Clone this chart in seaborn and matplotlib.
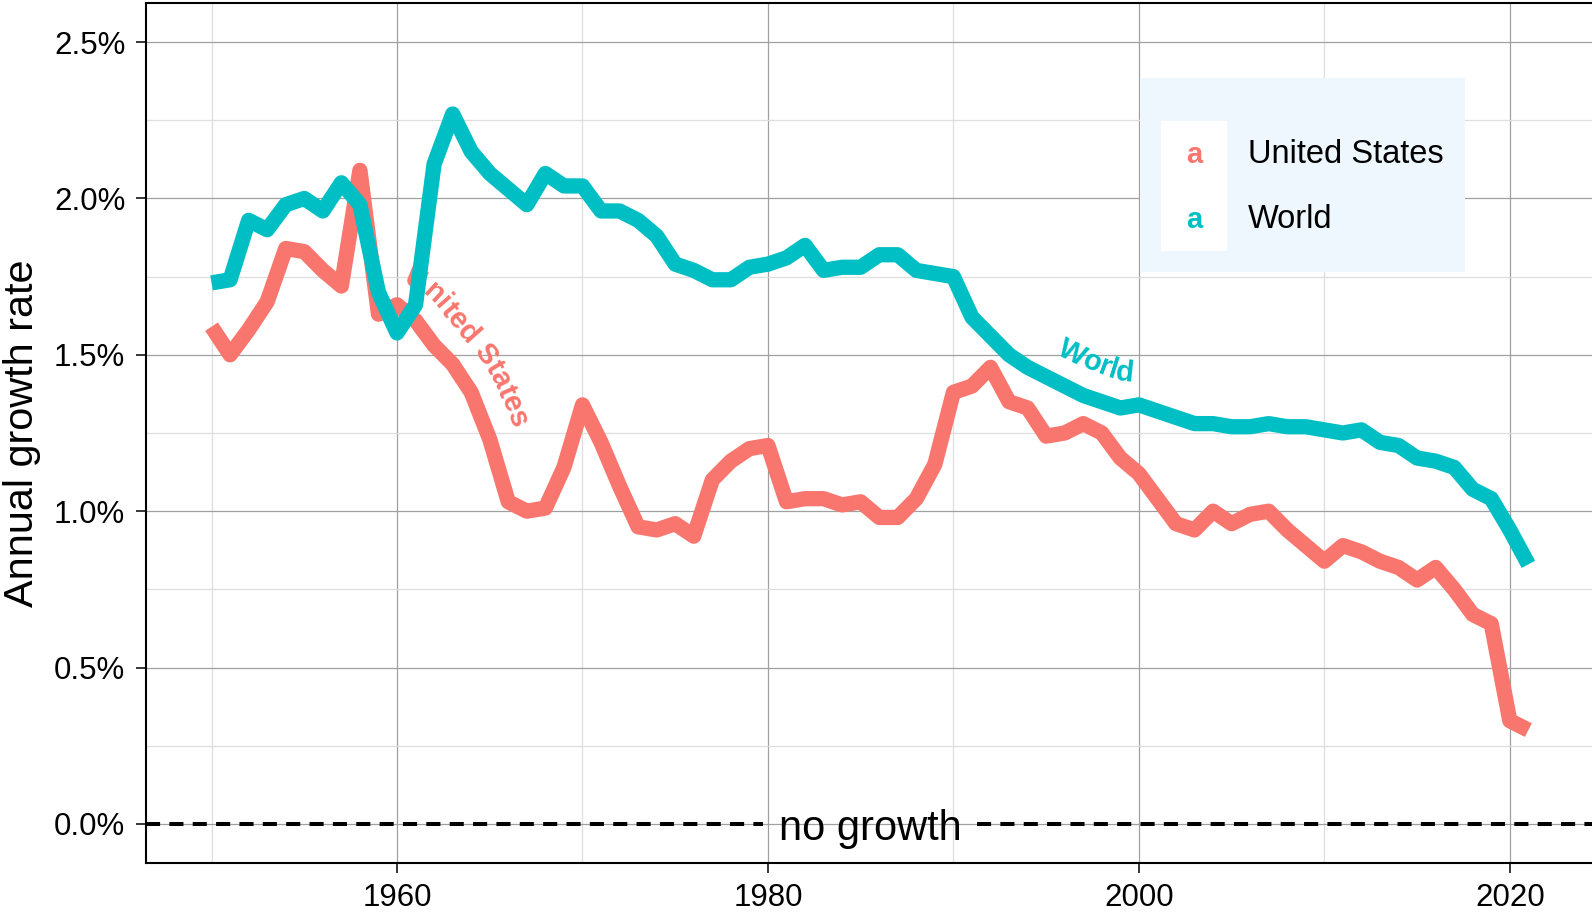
import numpy as np
import pandas as pd
import matplotlib
matplotlib.use("Agg")
import matplotlib.pyplot as plt
import seaborn as sns
from matplotlib.legend_handler import HandlerBase
from matplotlib.patches import Rectangle
from matplotlib.text import Text
from matplotlib.lines import Line2D
from matplotlib.font_manager import FontProperties, findfont
from matplotlib.ft2font import FT2Font
from matplotlib.ticker import FixedLocator, FuncFormatter
from matplotlib.transforms import offset_copy

# ---------------- data ----------------
years = list(range(1950, 2022))
us_growth = [1.59, 1.50, 1.58, 1.67, 1.84, 1.83, 1.77, 1.72, 2.09, 1.63,
             1.66, 1.61, 1.53, 1.47, 1.38, 1.23, 1.03, 1.00, 1.01, 1.14,
             1.34, 1.22, 1.08, 0.95, 0.94, 0.96, 0.92, 1.10, 1.16, 1.20,
             1.21, 1.03, 1.04, 1.04, 1.02, 1.03, 0.98, 0.98, 1.04, 1.15,
             1.38, 1.40, 1.46, 1.35, 1.33, 1.24, 1.25, 1.28, 1.25, 1.17,
             1.12, 1.04, 0.96, 0.94, 1.00, 0.96, 0.99, 1.00, 0.94, 0.89,
             0.84, 0.89, 0.87, 0.84, 0.82, 0.78, 0.82, 0.75, 0.67, 0.64,
             0.33, 0.30]
world_growth = [1.73, 1.74, 1.93, 1.90, 1.98, 2.00, 1.96, 2.05, 1.98, 1.70,
                1.57, 1.66, 2.11, 2.27, 2.15, 2.08, 2.03, 1.98, 2.08, 2.04,
                2.04, 1.96, 1.96, 1.93, 1.88, 1.79, 1.77, 1.74, 1.74, 1.78,
                1.79, 1.81, 1.85, 1.77, 1.78, 1.78, 1.82, 1.82, 1.77, 1.76,
                1.75, 1.62, 1.56, 1.50, 1.46, 1.43, 1.40, 1.37, 1.35, 1.33,
                1.34, 1.32, 1.30, 1.28, 1.28, 1.27, 1.27, 1.28, 1.27, 1.27,
                1.26, 1.25, 1.26, 1.22, 1.21, 1.17, 1.16, 1.14, 1.07, 1.04,
                0.94, 0.83]
countries = ["United States", "World"]
colors = ["#F8766D", "#00BFC4"]
x_breaks = [1960, 1980, 2000, 2020]
x_minor = [1950, 1970, 1990, 2010]
y_breaks = [0.0, 0.5, 1.0, 1.5, 2.0, 2.5]
y_minor = [0.25, 0.75, 1.25, 1.75, 2.25]
y_title = "Annual growth rate"
ref_label = "no growth"

# ---------------- style ----------------
sns.set_theme(style="white")
plt.rcParams["font.family"] = ["Liberation Sans", "DejaVu Sans"]

df = pd.DataFrame({
    "year": years * 2,
    "growth": us_growth + world_growth,
    "country": [countries[0]] * len(years) + [countries[1]] * len(years),
})
palette = dict(zip(countries, colors))

W, H = 1592, 916
fig = plt.figure(figsize=(W / 100, H / 100), dpi=100)
ax = fig.add_axes([145.7 / W, (H - 863) / H, 1448.5 / W, 860 / H])

sns.lineplot(data=df, x="year", y="growth", hue="country", hue_order=countries,
             palette=palette, linewidth=11, estimator=None, legend=False, ax=ax)
for i, ln in enumerate(ax.lines):
    ln.set_solid_joinstyle("round")
    ln.set_solid_capstyle("butt")
    ln.set_zorder(2 + i)

xlim = (1946.45, 2024.55)
ylim = (-0.125, 2.625)
ax.set_xlim(*xlim)
ax.set_ylim(*ylim)

ax.xaxis.set_major_locator(FixedLocator(x_breaks))
ax.xaxis.set_minor_locator(FixedLocator(x_minor))
ax.yaxis.set_major_locator(FixedLocator(y_breaks))
ax.yaxis.set_minor_locator(FixedLocator(y_minor))
ax.yaxis.set_major_formatter(FuncFormatter(lambda v, p: f"{v:.1f}%"))
ax.xaxis.set_major_formatter(FuncFormatter(lambda v, p: f"{int(v)}"))

ax.set_axisbelow(True)
ax.grid(which="major", color="#a0a0a0", linewidth=0.9)
ax.grid(which="minor", color="#dedede", linewidth=0.9)
ax.tick_params(which="major", length=7.2, width=1.1, color="black", pad=7.5,
               labelsize=22.5, labelcolor="black", bottom=True, left=True)
ax.tick_params(which="minor", length=0)
for sp in ax.spines.values():
    sp.set_visible(True)
    sp.set_color("black")
    sp.set_linewidth(1.5)

ax.set_xlabel("")
ax.set_ylabel(y_title, fontsize=29.8, color="black")
ax.yaxis.set_label_coords(-0.0725, 0.5)


# ---------------- labels along the lines ----------------
def text_on_path(xs, ys, label, x_mid, offset_px, color, size_pt, z, win=18):
    P = ax.transData.transform(np.column_stack([xs, ys]))
    d = np.hypot(*np.diff(P, axis=0).T)
    s = np.concatenate([[0], np.cumsum(d)])
    ss = np.arange(0, s[-1], 1.0)
    X = np.interp(ss, s, P[:, 0])
    Y = np.interp(ss, s, P[:, 1])
    k = int(win)
    ker = np.ones(2 * k + 1) / (2 * k + 1)
    Xs = np.convolve(np.pad(X, k, mode="edge"), ker, "valid")
    Ys = np.convolve(np.pad(Y, k, mode="edge"), ker, "valid")
    dx, dy = np.gradient(Xs), np.gradient(Ys)
    L = np.hypot(dx, dy)
    nx, ny = -dy / L, dx / L
    OX, OY = Xs + offset_px * nx, Ys + offset_px * ny
    so = np.concatenate([[0], np.cumsum(np.hypot(np.diff(OX), np.diff(OY)))])
    s_mid = np.interp(x_mid, xs, s)
    so_mid = np.interp(s_mid, ss, so)
    fp = FontProperties(family="Liberation Sans", weight="bold", size=size_pt)
    font = FT2Font(findfont(fp))
    font.set_size(size_pt, fig.dpi)
    adv = np.array([font.load_char(ord(c)).linearHoriAdvance / 65536 for c in label])
    starts = so_mid - adv.sum() / 2 + np.concatenate([[0], np.cumsum(adv)[:-1]])
    centers = starts + adv / 2
    inv = ax.transData.inverted()
    for c, sc, a in zip(label, centers, adv):
        if c == " ":
            continue
        px = np.interp(sc, so, OX)
        py = np.interp(sc, so, OY)
        ax_ = np.interp(sc + a / 2, so, OX) - np.interp(sc - a / 2, so, OX)
        ay_ = np.interp(sc + a / 2, so, OY) - np.interp(sc - a / 2, so, OY)
        ang = np.degrees(np.arctan2(ay_, ax_))
        qx, qy = inv.transform((px, py))
        ax.text(qx, qy, c, rotation=ang, rotation_mode="anchor", ha="center",
                va="baseline", color=color, fontsize=size_pt, fontweight="bold",
                zorder=z)


text_on_path(years, us_growth, countries[0], 1962.9, 25, colors[0], 21, 2.5)
text_on_path(years, world_growth, countries[1], 1997.0, 25, colors[1], 21, 3.5)

# ---------------- reference line with label ----------------
xmid = (xlim[0] + xlim[1]) / 2
t_ng = ax.text(xmid, 0, ref_label, ha="center", va="baseline", fontsize=30,
               color="black", zorder=5,
               transform=offset_copy(ax.transData, fig=fig, y=-16.5, units="dots"))
renderer = fig.canvas.get_renderer()
bb = t_ng.get_window_extent(renderer)
inv = ax.transData.inverted()
xl = inv.transform((bb.x0 - 16, 0))[0]
xr = inv.transform((bb.x1 + 16, 0))[0]
frac = lambda v: (v - xlim[0]) / (xlim[1] - xlim[0])
for a0, a1 in [(0, frac(xl)), (frac(xr), 1)]:
    ax.axhline(0, xmin=a0, xmax=a1, color="black", linewidth=2.9,
               linestyle=(0, (3.5, 2.3)), zorder=4)


# ---------------- legend ----------------
class KeyText(HandlerBase):
    def create_artists(self, legend, orig_handle, xdescent, ydescent, width,
                       height, fontsize, trans):
        rect = Rectangle((-xdescent, -ydescent), width, height, facecolor="white",
                         edgecolor="none", transform=trans)
        txt = Text(-xdescent + width / 2, 0, "a", color=orig_handle.get_color(),
                   ha="center", va="baseline", fontsize=21, fontweight="bold",
                   fontfamily="Liberation Sans", transform=trans)
        return [rect, txt]


handles = [Line2D([], [], color=c) for c in colors]
leg = ax.legend(handles, countries, handler_map={Line2D: KeyText()},
                loc="upper left", bbox_to_anchor=(0.6864, 0.9128), borderaxespad=0,
                fontsize=23.5, title=" ", title_fontproperties={"size": 15.7},
                handlelength=1.994, handleheight=2.69, labelspacing=0,
                handletextpad=0.65, borderpad=0.66, frameon=True, fancybox=False,
                facecolor="#EEF6FE", edgecolor="none", framealpha=1)
leg.set_zorder(10)
for t in leg.get_texts():
    t.set_color("black")

fig.savefig("out.png", dpi=100)
